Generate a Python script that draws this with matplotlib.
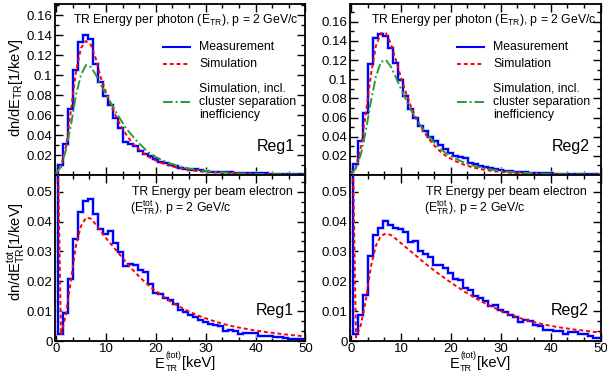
import numpy as np
import matplotlib
matplotlib.use("Agg")
import matplotlib.pyplot as plt
from matplotlib.ticker import MultipleLocator, FixedLocator

plt.rcParams['font.family'] = ['Liberation Sans', 'DejaVu Sans']
plt.rcParams['mathtext.fontset'] = 'custom'
plt.rcParams['mathtext.rm'] = 'Liberation Sans'
plt.rcParams['mathtext.it'] = 'Liberation Sans:italic'
plt.rcParams['mathtext.bf'] = 'Liberation Sans:bold'

# ---------------- data (bin centres 0..50 keV, 1 keV bins) ----------------
energy_keV = list(range(51))

# Top-left: Reg1, energy per photon
meas_photon_reg1 = [0.0025, 0.010, 0.031, 0.066, 0.1046, 0.133, 0.1398, 0.1358, 0.111, 0.093,
                    0.0788, 0.0705, 0.0572, 0.0472, 0.033, 0.0313, 0.029, 0.024, 0.0207, 0.019,
                    0.0164, 0.0134, 0.0124, 0.0101, 0.009, 0.0074, 0.0064, 0.0051, 0.0058, 0.0048,
                    0.0041, 0.0034, 0.0030, 0.0030, 0.0028, 0.0027, 0.0025, 0.0025, 0.0020, 0.0020,
                    0.0018, 0.0018, 0.0017, 0.0015, 0.0012, 0.0012, 0.0011, 0.0010, 0.0009, 0.0008, 0.0008]
sim_photon_reg1 = [0.001, 0.008, 0.028, 0.065, 0.103, 0.127, 0.134, 0.130, 0.116, 0.097,
                   0.083, 0.070, 0.059, 0.049, 0.041, 0.034, 0.028, 0.024, 0.020, 0.017,
                   0.0145, 0.0123, 0.0105, 0.0090, 0.0077, 0.0066, 0.0057, 0.0049, 0.0042, 0.0036,
                   0.0031, 0.0027, 0.0024, 0.0021, 0.0018, 0.0016, 0.0014, 0.0012, 0.0011, 0.0010,
                   0.0009, 0.0008, 0.0007, 0.0006, 0.0006, 0.0005, 0.0005, 0.0004, 0.0004, 0.0003, 0.0003]
simcl_photon_reg1 = [0.001, 0.009, 0.025, 0.050, 0.080, 0.100, 0.110, 0.108, 0.100, 0.090,
                     0.081, 0.072, 0.063, 0.055, 0.047, 0.041, 0.035, 0.030, 0.025, 0.021,
                     0.018, 0.0155, 0.0133, 0.0114, 0.0098, 0.0084, 0.0072, 0.0062, 0.0054, 0.0047,
                     0.0041, 0.0036, 0.0031, 0.0027, 0.0024, 0.0021, 0.0018, 0.0016, 0.0014, 0.0013,
                     0.0011, 0.0010, 0.0009, 0.0008, 0.0007, 0.0007, 0.0006, 0.0006, 0.0005, 0.0005, 0.0004]

# Top-right: Reg2, energy per photon
meas_photon_reg2 = [0.003, 0.011, 0.036, 0.065, 0.116, 0.1435, 0.1467, 0.145, 0.1327, 0.117,
                    0.0987, 0.082, 0.069, 0.0595, 0.0515, 0.046, 0.040, 0.036, 0.031, 0.027,
                    0.023, 0.020, 0.019, 0.0175, 0.013, 0.011, 0.0095, 0.008, 0.007, 0.006,
                    0.0052, 0.0045, 0.0040, 0.0035, 0.0030, 0.0027, 0.0024, 0.0022, 0.0020, 0.0018,
                    0.0016, 0.0015, 0.0013, 0.0012, 0.0011, 0.0010, 0.0009, 0.0008, 0.0007, 0.0006, 0.0005]
sim_photon_reg2 = [0.001, 0.008, 0.030, 0.065, 0.105, 0.135, 0.148, 0.148, 0.137, 0.120,
                   0.102, 0.086, 0.072, 0.060, 0.050, 0.042, 0.035, 0.029, 0.024, 0.020,
                   0.017, 0.0143, 0.0120, 0.0101, 0.0085, 0.0072, 0.0061, 0.0052, 0.0044, 0.0037,
                   0.0032, 0.0027, 0.0023, 0.0020, 0.0017, 0.0015, 0.0013, 0.0011, 0.0010, 0.0009,
                   0.0008, 0.0007, 0.0006, 0.0005, 0.0005, 0.0004, 0.0004, 0.0003, 0.0003, 0.0003, 0.0002]
simcl_photon_reg2 = [0.001, 0.007, 0.022, 0.047, 0.077, 0.103, 0.118, 0.120, 0.113, 0.102,
                     0.090, 0.079, 0.068, 0.059, 0.051, 0.044, 0.038, 0.032, 0.027, 0.023,
                     0.020, 0.017, 0.0145, 0.0124, 0.0106, 0.0091, 0.0078, 0.0067, 0.0058, 0.0050,
                     0.0043, 0.0037, 0.0032, 0.0028, 0.0024, 0.0021, 0.0018, 0.0016, 0.0014, 0.0012,
                     0.0011, 0.0010, 0.0009, 0.0008, 0.0007, 0.0006, 0.0006, 0.0005, 0.0005, 0.0004, 0.0004]

# Bottom-left: Reg1, energy per beam electron
meas_total_reg1 = [0.25, 0.0024, 0.0095, 0.0206, 0.0341, 0.0431, 0.0469, 0.0476, 0.0427, 0.0374,
                   0.0360, 0.0369, 0.0327, 0.0299, 0.0250, 0.0259, 0.0254, 0.0237, 0.0231, 0.0192,
                   0.0162, 0.0159, 0.0145, 0.0139, 0.0125, 0.0103, 0.0097, 0.0086, 0.0080, 0.0072,
                   0.0063, 0.0058, 0.0052, 0.0049, 0.0035, 0.0038, 0.0033, 0.0024, 0.0027, 0.0027,
                   0.0026, 0.0018, 0.0018, 0.0018, 0.0013, 0.0013, 0.0011, 0.0007, 0.0007, 0.0007, 0.0007]
sim_total_reg1 = [0.10, 0.0020, 0.0090, 0.0205, 0.0320, 0.0385, 0.0413, 0.0410, 0.0390, 0.0368,
                  0.0345, 0.0325, 0.0305, 0.0285, 0.0265, 0.0245, 0.0228, 0.0210, 0.0195, 0.0180,
                  0.0167, 0.0155, 0.0143, 0.0132, 0.0122, 0.0113, 0.0104, 0.0096, 0.0089, 0.0082,
                  0.0076, 0.0070, 0.0065, 0.0060, 0.0055, 0.0051, 0.0047, 0.0044, 0.0041, 0.0038,
                  0.0035, 0.0033, 0.0030, 0.0028, 0.0026, 0.0024, 0.0022, 0.0020, 0.0019, 0.0017, 0.0016]

# Bottom-right: Reg2, energy per beam electron
meas_total_reg2 = [0.25, 0.0022, 0.0086, 0.0155, 0.0285, 0.0355, 0.0377, 0.0403, 0.0388, 0.0377,
                   0.0374, 0.0366, 0.0332, 0.0336, 0.0302, 0.0291, 0.0282, 0.0254, 0.0254, 0.0243,
                   0.0228, 0.0207, 0.0203, 0.0178, 0.0170, 0.0150, 0.0144, 0.0133, 0.0116, 0.0119,
                   0.0103, 0.0097, 0.0086, 0.0082, 0.0063, 0.0069, 0.0067, 0.0054, 0.0049, 0.0038,
                   0.0038, 0.0035, 0.0033, 0.0024, 0.0029, 0.0029, 0.0024, 0.0023, 0.0018, 0.0011, 0.0011]
sim_total_reg2 = [0.10, 0.0012, 0.0055, 0.0140, 0.0250, 0.0320, 0.0352, 0.0360, 0.0355, 0.0342,
                  0.0328, 0.0314, 0.0300, 0.0286, 0.0272, 0.0258, 0.0245, 0.0232, 0.0220, 0.0208,
                  0.0196, 0.0185, 0.0174, 0.0163, 0.0153, 0.0143, 0.0134, 0.0125, 0.0117, 0.0109,
                  0.0101, 0.0094, 0.0088, 0.0082, 0.0076, 0.0071, 0.0066, 0.0062, 0.0058, 0.0054,
                  0.0051, 0.0048, 0.0045, 0.0043, 0.0040, 0.0038, 0.0036, 0.0034, 0.0032, 0.0030, 0.0029]

top_ticks = [0.02, 0.04, 0.06, 0.08, 0.1, 0.12, 0.14, 0.16]
top_ticklabels = ["0.02", "0.04", "0.06", "0.08", "0.1", "0.12", "0.14", "0.16"]
bot_ticks = [0, 0.01, 0.02, 0.03, 0.04, 0.05]
bot_ticklabels = ["0", "0.01", "0.02", "0.03", "0.04", "0.05"]
x_ticks = [0, 10, 20, 30, 40, 50]
x_ticklabels = ["0", "10", "20", "30", "40", "50"]

legend_labels = ["Measurement", "Simulation", "Simulation, incl.\ncluster separation\ninefficiency"]
region_labels = ["Reg1", "Reg2"]
title_top = r"TR Energy per photon (E$_{\rm TR}$), p = 2 GeV/c"
title_bot1 = "TR Energy per beam electron"
title_bot2 = r"(E$^{\rm tot}_{\rm TR}$), p = 2 GeV/c"
xlabel_parts = ["E", "(tot)", "TR", "[keV]"]

BLUE = "#0000ff"
RED = "#ff0000"
GREEN = "#2a9a3a"
DASH_RED = (0, (2, 1.5))
DASH_GREEN = (0, (5, 1.5, 1, 1.5))

W, H = 607, 372
fig = plt.figure(figsize=(W / 100, H / 100), dpi=100)
renderer = fig.canvas.get_renderer()

def fx(px):
    return px / W

def fy(py):
    return 1 - py / H

lefts = [54.5, 349.5]
width = 251.0
top_y0, top_y1 = 4.0, 175.0
bot_y0, bot_y1 = 175.0, 341.0

edges = np.arange(-0.5, 51.0, 1.0)
xc = np.array(energy_keV)

TXT = 8.8

def style(ax, yminor):
    ax.set_xlim(-0.3, 50)
    ax.xaxis.set_minor_locator(MultipleLocator(10 / 3))
    ax.yaxis.set_minor_locator(MultipleLocator(yminor))
    ax.tick_params(which='both', direction='in', top=True, right=True, width=1.0, colors='black')
    ax.tick_params(which='major', length=6)
    ax.tick_params(which='minor', length=3)
    ax.tick_params(labelsize=9.5, pad=1.5)
    for s in ax.spines.values():
        s.set_linewidth(1.3)

def draw_hist(ax, vals):
    ax.stairs(vals, edges, color="#c4ceff", lw=2.6, zorder=2)
    ax.stairs(vals, edges, color=BLUE, lw=1.5, zorder=3)

def right_px(t):
    bb = t.get_window_extent(renderer=renderer)
    return bb.x1

def xlabel(x_left, base):
    tE = fig.text(fx(x_left), fy(base), xlabel_parts[0], fontsize=10.5, ha='left', va='baseline')
    xr = right_px(tE) + 0.5
    tS = fig.text(xr / W, fy(base - 9.5), xlabel_parts[1], fontsize=6.5, ha='left', va='baseline')
    tB = fig.text(xr / W, fy(base + 3.5), xlabel_parts[2], fontsize=6.5, ha='left', va='baseline')
    xr2 = max(right_px(tS), right_px(tB)) + 1.0
    fig.text(xr2 / W, fy(base), xlabel_parts[3], fontsize=10.5, ha='left', va='baseline')

tops = [(meas_photon_reg1, sim_photon_reg1, simcl_photon_reg1, 0.171),
        (meas_photon_reg2, sim_photon_reg2, simcl_photon_reg2, 0.1785)]
bots = [(meas_total_reg1, sim_total_reg1), (meas_total_reg2, sim_total_reg2)]

for i, lx in enumerate(lefts):
    # top panel
    axt = fig.add_axes([fx(lx), fy(top_y1), fx(width), (top_y1 - top_y0) / H])
    meas, sim, simcl, ytop = tops[i]
    draw_hist(axt, meas)
    axt.plot(xc, sim, color=RED, lw=1.4, ls=DASH_RED, zorder=4)
    axt.plot(xc, simcl, color=GREEN, lw=1.4, ls=DASH_GREEN, zorder=4)
    axt.set_ylim(0, ytop)
    style(axt, 0.01)
    axt.yaxis.set_major_locator(FixedLocator(top_ticks))
    axt.set_yticklabels(top_ticklabels)
    axt.xaxis.set_major_locator(FixedLocator(x_ticks))
    axt.set_xticklabels([])

    # title & legend in pixel coordinates
    tx = lx + 18.5 if i == 0 else lx + 21.5
    fig.text(fx(tx), fy(20), title_top, fontsize=TXT, ha='left', va='center')
    lx0 = lx + 108.5 if i == 0 else lx + 107.5
    for j, (col, ls, yy) in enumerate([(BLUE, '-', 47), (RED, DASH_RED, 64), (GREEN, DASH_GREEN, 102)]):
        fig.add_artist(plt.Line2D([fx(lx0), fx(lx0 + 27)], [fy(yy), fy(yy)], color=col,
                                  lw=1.5 if j == 0 else 1.4, ls=ls, transform=fig.transFigure))
    fig.text(fx(lx0 + 36), fy(47), legend_labels[0], fontsize=TXT, ha='left', va='center')
    fig.text(fx(lx0 + 36), fy(64), legend_labels[1], fontsize=TXT, ha='left', va='center')
    fig.text(fx(lx0 + 36), fy(102), legend_labels[2], fontsize=TXT, ha='left', va='center',
             linespacing=1.15)
    fig.text(fx(lx + 202), fy(146), region_labels[i], fontsize=11.5, ha='left', va='center')

    # bottom panel
    axb = fig.add_axes([fx(lx), fy(bot_y1), fx(width), (bot_y1 - bot_y0) / H])
    meas, sim = bots[i]
    draw_hist(axb, meas)
    axb.plot(xc, sim, color=RED, lw=1.4, ls=DASH_RED, zorder=4)
    axb.set_ylim(0, 0.0556)
    style(axb, 0.01 / 3)
    axb.yaxis.set_major_locator(FixedLocator(bot_ticks))
    axb.set_yticklabels(bot_ticklabels)
    axb.xaxis.set_major_locator(FixedLocator(x_ticks))
    axb.set_xticklabels(x_ticklabels)
    bx = lx + 77
    fig.text(fx(bx), fy(192), title_bot1, fontsize=TXT, ha='left', va='center')
    fig.text(fx(bx - 2), fy(208), title_bot2, fontsize=TXT, ha='left', va='center')
    fig.text(fx(lx + 201), fy(311), region_labels[i], fontsize=11.5, ha='left', va='center')
    xlabel(lx + 100.5, 367.5)

fig.text(fx(16), fy(88), r"dn/dE$_{\rm TR}$[1/keV]", fontsize=10.5, rotation=90,
         ha='center', va='center')
fig.text(fx(16), fy(252), r"dn/dE$^{\rm tot}_{\rm TR}$[1/keV]", fontsize=10.5, rotation=90,
         ha='center', va='center')

fig.savefig("out.png", dpi=100)
